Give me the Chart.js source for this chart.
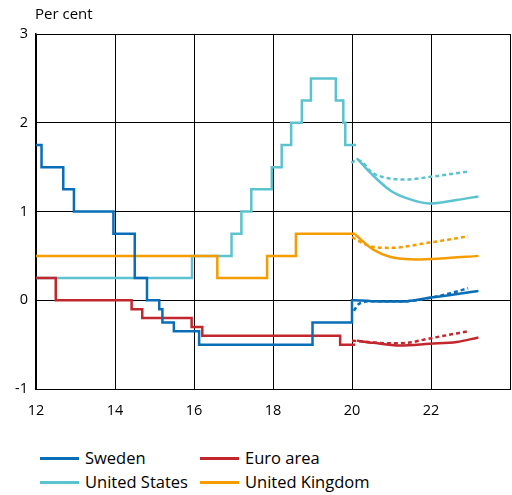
<!DOCTYPE html>
<html>
<head>
<meta charset="utf-8">
<script src="https://cdn.jsdelivr.net/npm/chart.js@4/dist/chart.umd.min.js"></script>
<style>
  body { margin: 0; background: #fff; }
  #wrap { position: relative; width: 512px; height: 495px; font-family: 'Open Sans', sans-serif; color: #000; }
  #unit { position: absolute; left: 35px; top: 3px; font-size: 15px; }
  #chart { position: absolute; left: 0; top: 0; }
  #legend { position: absolute; left: 0; top: 0; width: 512px; }
  .item { position: absolute; font-size: 16.5px; line-height: 20px; white-space: nowrap; }
  .item span.swatch { position: absolute; top: 9px; width: 39px; height: 3px; }
  .item span.label { position: absolute; left: 45px; top: 0; }
</style>
</head>
<body>
<div id="wrap">
  <canvas id="chart" width="512" height="430"></canvas>
  <div id="unit">Per cent</div>
  <div id="legend"></div>
</div>
<script>
// Policy rates, realised (step lines): change dates (year, 12 = 2012) and new levels
const sweDates = [12, 12.14, 12.69, 12.96, 13.96, 14.5, 14.81, 15.12, 15.2, 15.49, 16.13, 19.0, 20.0, 20.1];
const sweRates = [1.75, 1.5, 1.25, 1.0, 0.75, 0.25, 0, -0.1, -0.25, -0.35, -0.5, -0.25, 0, 0];

const euDates = [12, 12.5, 14.42, 14.69, 15.94, 16.21, 19.7, 20.08];
const euRates = [0.25, 0, -0.1, -0.2, -0.3, -0.4, -0.5, -0.5];

const usDates = [12, 15.95, 16.95, 17.2, 17.45, 17.97, 18.22, 18.46, 18.73, 18.96, 19.59, 19.78, 19.83, 20.1];
const usRates = [0.25, 0.5, 0.75, 1.0, 1.25, 1.5, 1.75, 2.0, 2.25, 2.5, 2.25, 2.0, 1.75, 1.75];

const ukDates = [12, 16.59, 17.85, 18.58, 20.08];
const ukRates = [0.5, 0.25, 0.5, 0.75, 0.75];

// Market expectations, solid = latest, dotted = earlier
const sweFcX = [20.1, 20.5, 21.0, 21.4, 22.0, 22.5, 23.2];
const sweFcY = [0.0, -0.01, -0.015, -0.01, 0.03, 0.06, 0.105];
const sweOldX = [20.05, 20.15, 20.3, 20.54, 21.0, 21.4, 22.0, 22.5, 22.94];
const sweOldY = [-0.12, -0.05, -0.02, -0.01, -0.01, -0.01, 0.03, 0.08, 0.135];

const euFcX = [20.12, 20.54, 21.21, 21.97, 22.65, 23.2];
const euFcY = [-0.455, -0.48, -0.51, -0.49, -0.47, -0.42];
const euOldX = [20.0, 20.96, 21.38, 21.97, 22.94];
const euOldY = [-0.455, -0.485, -0.48, -0.43, -0.35];

const usFcX = [20.12, 20.5, 20.96, 21.38, 21.97, 22.65, 23.2];
const usFcY = [1.6, 1.42, 1.24, 1.15, 1.09, 1.13, 1.17];
const usOldX = [19.98, 20.15, 20.54, 21.38, 21.97, 22.94];
const usOldY = [1.55, 1.58, 1.43, 1.36, 1.39, 1.45];

const ukFcX = [20.08, 20.54, 20.96, 21.64, 22.23, 23.2];
const ukFcY = [0.74, 0.57, 0.49, 0.46, 0.47, 0.5];
const ukOldX = [20.0, 20.45, 20.96, 21.97, 22.94];
const ukOldY = [0.71, 0.61, 0.59, 0.65, 0.72];

const xTicks = [12, 14, 16, 18, 20, 22];
const yTicks = [-1, 0, 1, 2, 3];

const countries = [
  { name: 'Sweden',         color: '#0a6db7', dates: sweDates, rates: sweRates, fcX: sweFcX, fcY: sweFcY, oldX: sweOldX, oldY: sweOldY, order: 0 },
  { name: 'Euro area',      color: '#c1272d', dates: euDates,  rates: euRates,  fcX: euFcX,  fcY: euFcY,  oldX: euOldX,  oldY: euOldY,  order: 1 },
  { name: 'United States',  color: '#5bc3d0', dates: usDates,  rates: usRates,  fcX: usFcX,  fcY: usFcY,  oldX: usOldX,  oldY: usOldY,  order: 3 },
  { name: 'United Kingdom', color: '#f59d00', dates: ukDates,  rates: ukRates,  fcX: ukFcX,  fcY: ukFcY,  oldX: ukOldX,  oldY: ukOldY,  order: 2 }
];

const zip = (xs, ys) => xs.map((x, i) => ({ x: x, y: ys[i] }));

const datasets = [];
countries.forEach(c => {
  datasets.push({ label: c.name, data: zip(c.dates, c.rates), borderColor: c.color, borderWidth: 2.5,
    stepped: 'before', pointRadius: 0, order: c.order });
  datasets.push({ label: c.name + ' forecast', data: zip(c.fcX, c.fcY), borderColor: c.color, borderWidth: 2.5,
    cubicInterpolationMode: 'monotone', pointRadius: 0, order: c.order + 4 });
  datasets.push({ label: c.name + ' earlier forecast', data: zip(c.oldX, c.oldY), borderColor: c.color, borderWidth: 2.5,
    borderDash: [4, 3], cubicInterpolationMode: 'monotone', pointRadius: 0, order: c.order + 8 });
});

new Chart(document.getElementById('chart').getContext('2d'), {
  type: 'line',
  data: { datasets: datasets },
  options: {
    responsive: false,
    animation: false,
    devicePixelRatio: 1,
    layout: { padding: { top: 34, right: 2, left: 0, bottom: 0 } },
    plugins: { legend: { display: false }, tooltip: { enabled: false } },
    scales: {
      x: {
        type: 'linear', min: 12, max: 24,
        afterBuildTicks: s => { s.ticks = xTicks.concat([24]).map(v => ({ value: v })); },
        afterFit: s => { s.height = 41; s.paddingLeft = 0; s.paddingRight = 0; },
        ticks: { color: '#000', font: { family: 'Open Sans', size: 14.5 }, padding: 13,
                 callback: v => (v === 24 ? '' : v) },
        grid: { color: '#000', lineWidth: 1, drawTicks: false },
        border: { color: '#000', width: 1 }
      },
      y: {
        min: -1, max: 3,
        afterBuildTicks: s => { s.ticks = yTicks.map(v => ({ value: v })); },
        afterFit: s => { s.width = 36; s.paddingTop = 0; s.paddingBottom = 0; },
        ticks: { color: '#000', font: { family: 'Open Sans', size: 14.5 }, padding: 8 },
        grid: { color: '#000', lineWidth: 1, drawTicks: false },
        border: { color: '#000', width: 1.5 }
      }
    }
  }
});

// two-column legend under the chart
const legendPos = [
  { left: 40, top: 448 }, { left: 200, top: 448 },
  { left: 40, top: 472 }, { left: 200, top: 472 }
];
const legend = document.getElementById('legend');
countries.forEach((c, i) => {
  const el = document.createElement('div');
  el.className = 'item';
  el.style.left = legendPos[i].left + 'px';
  el.style.top = legendPos[i].top + 'px';
  el.innerHTML = '<span class="swatch" style="background:' + c.color + '"></span><span class="label">' + c.name + '</span>';
  legend.appendChild(el);
});
</script>
</body>
</html>
